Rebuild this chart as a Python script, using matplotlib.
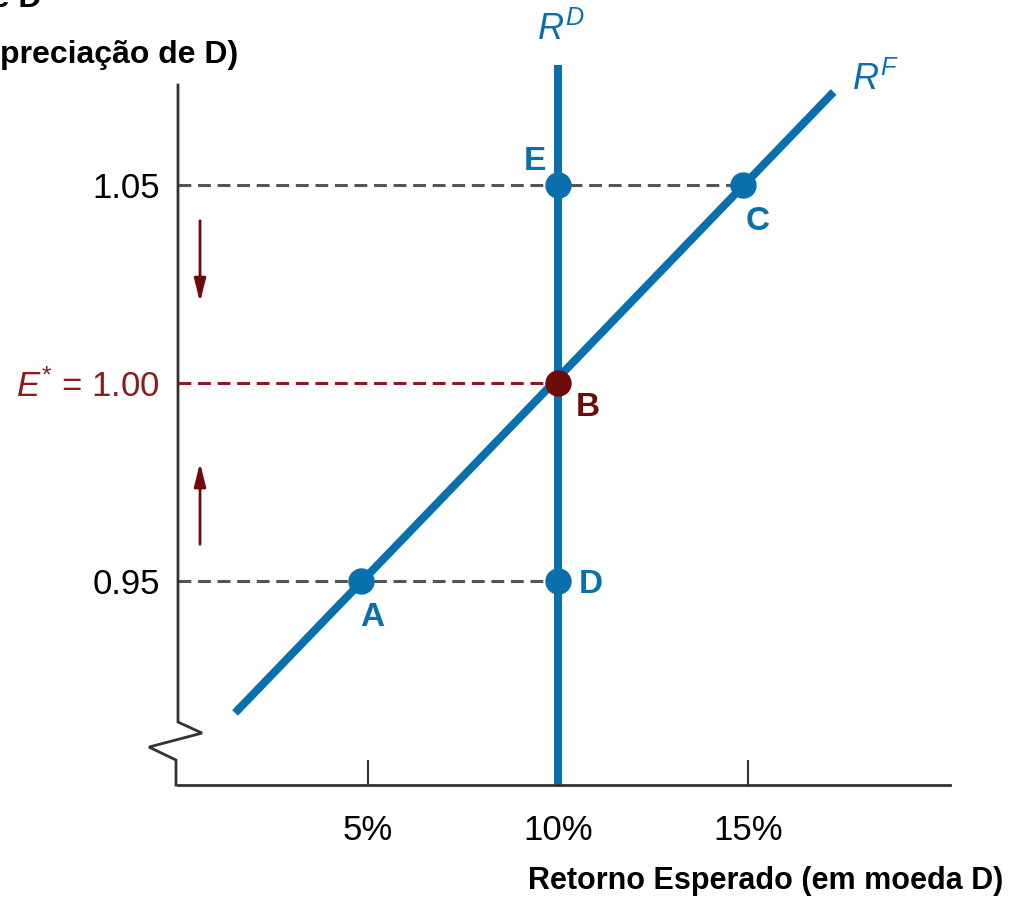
import matplotlib.pyplot as plt
import numpy as np

plt.rcParams['font.family'] = ['Liberation Sans', 'DejaVu Sans']
plt.rcParams['mathtext.fontset'] = 'custom'
plt.rcParams['mathtext.it'] = 'Liberation Sans:italic'
plt.rcParams['mathtext.rm'] = 'Liberation Sans'

azul = '#0a70ad'
vinho = '#6e0a0a'
vermelho = '#8c1c1c'
cinza = '#555555'

# curvas
rd_x = [10, 10]
rd_y = [0.8985, 1.0803]
rf_x = [1.5, 17.24]
rf_y = [0.9167, 1.0735]

# pontos
pt_nome = ['A', 'B', 'C', 'D', 'E']
pt_x = [4.8, 10, 14.85, 10, 10]
pt_y = [0.95, 1.00, 1.05, 0.95, 1.05]

xticks = [5, 10, 15]
xlabels = ['5%', '10%', '15%']
yticks = [0.95, 1.00, 1.05]
ylabels = ['0.95', '$E^{*}$ = 1.00', '1.05']

W, H = 1024, 897
fig = plt.figure(figsize=(W/100, H/100), dpi=100)
ax = fig.add_axes([178/W, (H-785)/H, 772/W, 785/H])
ax.set_xlim(0, 20.3)
ax.set_ylim(0.8985, 1 + 383/3960)

def px(x, y):
    # pixel -> dados
    return (x-178)/38, 1-(y-383)/3960

for s in ['top', 'right', 'left']:
    ax.spines[s].set_visible(False)
ax.spines['bottom'].set_linewidth(2)
ax.spines['bottom'].set_color('#333333')

# eixo vertical com quebra
quebra = [(178, 85), (178, 722), (202, 733), (149, 747), (176, 760), (176, 785)]
qx, qy = zip(*[px(a, b) for a, b in quebra])
ax.plot(qx, qy, color='#333333', lw=2, clip_on=False, solid_joinstyle='miter')

ax.set_xticks(xticks)
ax.set_xticklabels(xlabels, fontsize=25)
ax.tick_params(axis='x', direction='in', length=18, width=1.5, color='#333333', pad=21)
ax.set_yticks(yticks)
ax.set_yticklabels(ylabels, fontsize=25)
ax.tick_params(axis='y', length=0, pad=13)
ax.get_yticklabels()[1].set_color(vermelho)

# linhas tracejadas
for i in [2, 3]:
    ax.plot([0, pt_x[i]], [pt_y[i], pt_y[i]], color=cinza, lw=2.2, dashes=(4.2, 2.2), zorder=1)
ax.plot([0, pt_x[1]], [pt_y[1], pt_y[1]], color=vermelho, lw=2.2, dashes=(4.2, 2.2), zorder=1)

ax.plot(rd_x, rd_y, color=azul, lw=5.8, solid_capstyle='butt', clip_on=False, zorder=2)
ax.plot(rf_x, rf_y, color=azul, lw=5.8, solid_capstyle='butt', zorder=2)

for i, n in enumerate(pt_nome):
    cor = vinho if n == 'B' else azul
    ax.plot(pt_x[i], pt_y[i], 'o', color=cor, ms=18, zorder=3)

desloc = {'A': (12, -36), 'B': (30, -24), 'C': (15, -36), 'D': (33, -3), 'E': (-23, 24)}
for i, n in enumerate(pt_nome):
    cor = vinho if n == 'B' else azul
    ax.annotate(n, (pt_x[i], pt_y[i]), xytext=desloc[n], textcoords='offset pixels',
                ha='center', va='center', fontsize=24, fontweight='bold', color=cor)

ax.text(*px(561, 30), '$R^D$', color=azul, fontsize=26, ha='center', va='center', clip_on=False)
ax.text(*px(875, 80), '$R^F$', color=azul, fontsize=26, ha='center', va='center', clip_on=False)

# setas
ax.annotate('', xy=px(200, 305), xytext=px(200, 218),
            arrowprops=dict(arrowstyle='-|>,head_length=1.4,head_width=0.35', color=vinho, lw=2))
ax.annotate('', xy=px(200, 460), xytext=px(200, 547),
            arrowprops=dict(arrowstyle='-|>,head_length=1.4,head_width=0.35', color=vinho, lw=2))

# titulos
fig.text(1003/W, 1 - 881/H, 'Retorno Esperado (em moeda D)', ha='right', va='center',
         fontsize=22, fontweight='bold')
fig.text(42/W, 1 - 7/H, 'Taxa de câmbio de D', ha='right', va='baseline',
         fontsize=23, fontweight='bold')
fig.text(238/W, 1 - 55/H, '(depreciação de D)', ha='right', va='center',
         fontsize=23, fontweight='bold')

fig.savefig('out.png', dpi=100)
